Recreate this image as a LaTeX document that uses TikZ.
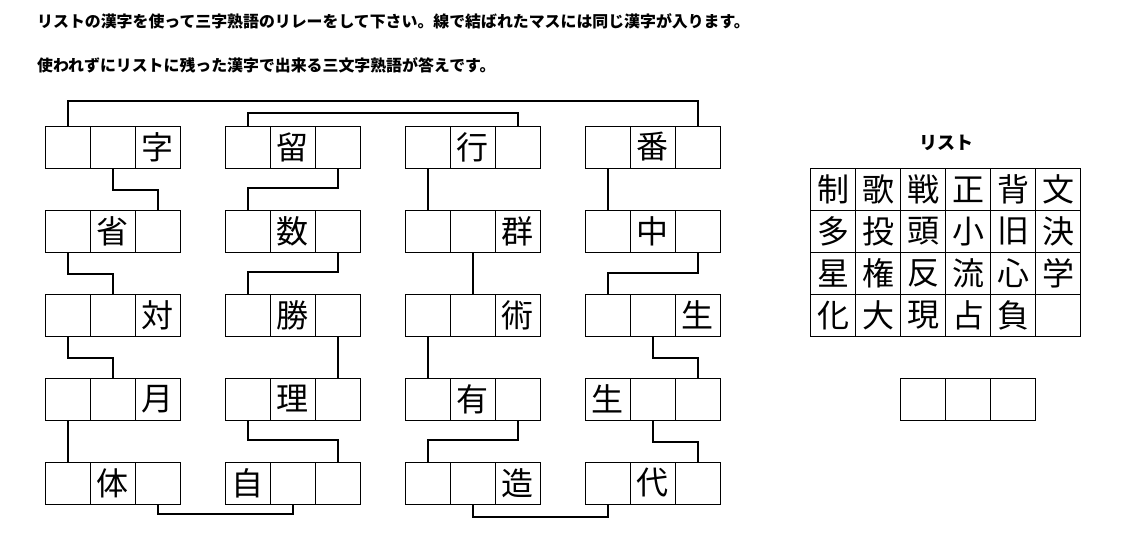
\documentclass[tikz,border=0pt]{standalone}
\usepackage{fontspec}
\setmainfont{Noto Sans CJK JP}
\usepackage{tikz}
\usetikzlibrary{calc,positioning,matrix}

\begin{document}
\begin{tikzpicture}[
  x=1pt,y=-1pt,
  cell/.style={draw,line width=1pt,minimum width=45pt,minimum height=42pt,inner sep=0pt,
    anchor=center,font=\fontsize{32}{34}\selectfont},
  link/.style={line width=2pt},
  intro/.style={anchor=west,inner sep=0pt,font=\fontsize{15.9}{18}\selectfont\bfseries}
]
\useasboundingbox (0,0) rectangle (1126,547);

\node[intro] (intro1) at (37,21)
  {リストの漢字を使って三字熟語のリレーをして下さい。線で結ばれたマスには同じ漢字が入ります。};
\node[intro] (intro2) at (37,65)
  {使われずにリストに残った漢字で出来る三文字熟語が答えです。};

\foreach \col/\row/\ta/\tb/\tc in {
  1/1/{}/{}/字, 2/1/{}/留/{}, 3/1/{}/行/{}, 4/1/{}/番/{},
  1/2/{}/省/{}, 2/2/{}/数/{}, 3/2/{}/{}/群, 4/2/{}/中/{},
  1/3/{}/{}/対, 2/3/{}/勝/{}, 3/3/{}/{}/術, 4/3/{}/{}/生,
  1/4/{}/{}/月, 2/4/{}/理/{}, 3/4/{}/有/{}, 4/4/生/{}/{},
  1/5/{}/体/{}, 2/5/自/{}/{}, 3/5/{}/{}/造, 4/5/{}/代/{}}
{
  \node[cell] (p\col\row a) at ({180*\col-112.5},{84*\row+63}) {\ta};
  \node[cell] (p\col\row b) at ({180*\col-67.5},{84*\row+63}) {\tb};
  \node[cell] (p\col\row c) at ({180*\col-22.5},{84*\row+63}) {\tc};
}

\draw[link] (p11a.north)--++(0,-25)-|(p41c.north);
\draw[link] (p21a.north)--++(0,-13)-|(p31c.north);

\draw[link] (p11b.south)--++(0,21)-|(p12c.north);
\draw[link] (p12a.south)--++(0,21)-|(p13b.north);
\draw[link] (p13a.south)--++(0,21)-|(p14b.north);
\draw[link] (p14a.south)--(p15a.north);
\draw[link] (p15c.south)--++(0,9)-|(p25b.south);

\draw[link] (p21c.south)--++(0,19)-|(p22a.north);
\draw[link] (p22c.south)--++(0,19)-|(p23a.north);
\draw[link] (p23c.south)--(p24c.north);
\draw[link] (p24a.south)--++(0,19)-|(p25c.north);

\draw[link] (p31a.south)--(p32a.north);
\draw[link] (p32b.south)--(p33b.north);
\draw[link] (p33a.south)--(p34a.north);
\draw[link] (p34c.south)--++(0,19)-|(p35a.north);
\draw[link] (p35b.south)--++(0,12)-|(p45a.south);

\draw[link] (p41a.south)--(p42a.north);
\draw[link] (p42c.south)--++(0,20)-|(p43a.north);
\draw[link] (p43b.south)--++(0,21)-|(p44c.north);
\draw[link] (p44b.south)--++(0,21)-|(p45c.north);

\node[font=\fontsize{18}{20}\selectfont\bfseries] (listtitle) at (946,143) {リスト};
\matrix (list) [matrix of nodes,nodes={cell},nodes in empty cells,
  column sep=-1pt,row sep=-1pt] at (945.7,252.3) {
  制 & 歌 & 戦 & 正 & 背 & 文 \\
  多 & 投 & 頭 & 小 & 旧 & 決 \\
  星 & 権 & 反 & 流 & 心 & 学 \\
  化 & 大 & 現 & 占 & 負 &    \\
};

\node[cell] (ans1) at (923.2,399) {};
\node[cell] (ans2) at (968.2,399) {};
\node[cell] (ans3) at (1013.2,399) {};
\end{tikzpicture}
\end{document}
